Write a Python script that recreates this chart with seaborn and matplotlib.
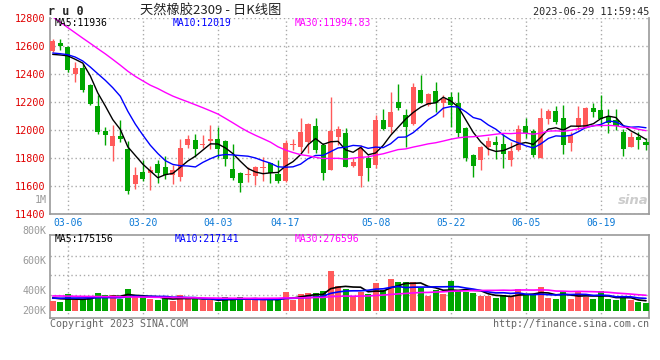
import matplotlib
matplotlib.use("Agg")
import matplotlib.pyplot as plt
import pandas as pd
import seaborn as sns

# trading days shown (03-02 .. 06-29)
dates = ['03-02', '03-03', '03-06', '03-07', '03-08', '03-09', '03-10', '03-13', '03-14', '03-15',
         '03-16', '03-17', '03-20', '03-21', '03-22', '03-23', '03-24', '03-27', '03-28', '03-29',
         '03-30', '03-31', '04-03', '04-04', '04-06', '04-07', '04-10', '04-11', '04-12', '04-13',
         '04-14', '04-17', '04-18', '04-19', '04-20', '04-21', '04-24', '04-25', '04-26', '04-27',
         '04-28', '05-04', '05-05', '05-08', '05-09', '05-10', '05-11', '05-12', '05-15', '05-16',
         '05-17', '05-18', '05-19', '05-22', '05-23', '05-24', '05-25', '05-26', '05-29', '05-30',
         '05-31', '06-01', '06-02', '06-05', '06-06', '06-07', '06-08', '06-09', '06-12', '06-13',
         '06-14', '06-15', '06-16', '06-19', '06-20', '06-21', '06-26', '06-27', '06-28', '06-29']

open_ = [12564, 12620, 12593, 12400, 12445, 12319, 12169, 11990, 11886, 11955,
         11862, 11617, 11700, 11693, 11755, 11736, 11679, 11664, 11890, 11926,
         11893, 11919, 11936, 11921, 11721, 11690, 11676, 11674, 11731, 11762,
         11686, 11638, 11895, 11881, 11917, 12029, 11893, 11714, 11952, 11976,
         11743, 11669, 11798, 11750, 12071, 12019, 12202, 12107, 12040, 12286,
         12179, 12279, 12190, 12238, 12190, 12017, 11821, 11786, 11881, 11917,
         11900, 11786, 11857, 12029, 11995, 11798, 12076, 12136, 12083, 11905,
         12019, 12017, 12160, 12143, 12100, 12071, 11988, 11881, 11952, 11914]
high = [12650, 12650, 12600, 12486, 12474, 12331, 12248, 12021, 12033, 12074,
        11919, 11736, 11783, 11740, 11783, 11812, 11750, 11938, 11967, 11969,
        11967, 12036, 12024, 11929, 11900, 11702, 11738, 11743, 11810, 11767,
        11786, 11929, 11933, 12083, 12048, 12083, 11905, 12238, 12029, 12012,
        11798, 11893, 11821, 12107, 12150, 12274, 12329, 12148, 12338, 12393,
        12262, 12345, 12250, 12269, 12274, 12024, 11829, 11886, 11952, 11957,
        11971, 11917, 12036, 12088, 12005, 12160, 12148, 12171, 12179, 11988,
        12171, 12167, 12195, 12250, 12148, 12148, 12005, 11988, 11988, 11940]
low = [12560, 12570, 12414, 12343, 12271, 12176, 11969, 11890, 11779, 11914,
       11545, 11581, 11636, 11569, 11621, 11652, 11612, 11636, 11874, 11807,
       11874, 11867, 11798, 11745, 11643, 11560, 11631, 11607, 11638, 11619,
       11619, 11631, 11857, 11845, 11838, 11838, 11643, 11714, 11893, 11733,
       11738, 11595, 11638, 11726, 12000, 11981, 12143, 11881, 12033, 12190,
       12171, 12131, 12090, 12024, 11948, 11781, 11667, 11714, 11821, 11790,
       11726, 11743, 11852, 11940, 11805, 11798, 12040, 12043, 11829, 11852,
       12000, 12012, 12090, 12024, 11976, 12000, 11814, 11876, 11862, 11857]
close = [12636, 12600, 12426, 12445, 12283, 12183, 11986, 11964, 11955, 11933,
         11564, 11676, 11650, 11712, 11693, 11676, 11717, 11874, 11933, 11864,
         11898, 11936, 11867, 11795, 11660, 11624, 11681, 11738, 11738, 11690,
         11638, 11905, 11900, 11988, 12043, 11857, 11695, 11995, 12007, 11738,
         11771, 11869, 11731, 12071, 12007, 12131, 12160, 12019, 12310, 12195,
         12255, 12190, 12221, 12179, 11976, 11798, 11743, 11881, 11921, 11893,
         11829, 11852, 12005, 11976, 11821, 12088, 12138, 12055, 11893, 11964,
         12083, 12155, 12131, 12076, 12052, 12029, 11862, 11952, 11929, 11893]

ma5 = [12540, 12536, 12530, 12505, 12478, 12387, 12265, 12172, 12074, 12004,
       11880, 11818, 11756, 11707, 11659, 11681, 11690, 11734, 11779, 11813,
       11857, 11901, 11900, 11872, 11831, 11776, 11725, 11700, 11688, 11694,
       11697, 11742, 11774, 11824, 11895, 11939, 11897, 11916, 11919, 11858,
       11841, 11876, 11823, 11836, 11890, 11962, 12020, 12078, 12125, 12163,
       12188, 12194, 12234, 12208, 12164, 12073, 11983, 11915, 11864, 11847,
       11853, 11875, 11900, 11911, 11897, 11948, 12006, 12016, 11999, 12028,
       12027, 12030, 12045, 12082, 12099, 12089, 12030, 11994, 11965, 11933]
ma10 = [12550, 12545, 12538, 12521, 12493, 12450, 12402, 12355, 12302, 12241,
        12134, 12042, 11964, 11891, 11832, 11781, 11754, 11745, 11743, 11736,
        11769, 11795, 11817, 11825, 11822, 11817, 11813, 11800, 11780, 11763,
        11737, 11734, 11737, 11756, 11795, 11818, 11819, 11845, 11872, 11877,
        11890, 11886, 11869, 11878, 11874, 11902, 11948, 11950, 11981, 12026,
        12075, 12107, 12156, 12167, 12164, 12130, 12089, 12075, 12036, 12006,
        11963, 11929, 11908, 11887, 11872, 11901, 11940, 11958, 11955, 11962,
        11988, 12018, 12030, 12040, 12064, 12058, 12030, 12020, 12023, 12016]
ma30 = [12808, 12770, 12732, 12694, 12656, 12619, 12581, 12544, 12504, 12463,
        12420, 12383, 12351, 12320, 12296, 12268, 12242, 12221, 12201, 12180,
        12159, 12137, 12114, 12083, 12051, 12018, 11988, 11962, 11938, 11913,
        11880, 11857, 11839, 11824, 11816, 11805, 11796, 11797, 11798, 11792,
        11799, 11805, 11808, 11820, 11830, 11845, 11860, 11865, 11878, 11889,
        11901, 11909, 11921, 11934, 11944, 11950, 11952, 11957, 11963, 11970,
        11976, 11974, 11978, 11977, 11970, 11978, 11992, 11994, 11991, 11998,
        12009, 12018, 12031, 12032, 12033, 12030, 12020, 12017, 12005, 11995]

# volume in thousands of lots
vol = [178, 148, 297, 189, 214, 225, 315, 274, 274, 214,
       382, 238, 238, 214, 184, 238, 178, 274, 214, 202,
       189, 189, 153, 250, 225, 238, 189, 189, 189, 214,
       214, 333, 189, 297, 315, 315, 346, 706, 436, 387,
       256, 328, 297, 495, 376, 567, 508, 508, 508, 405,
       256, 376, 297, 526, 369, 328, 315, 256, 256, 225,
       286, 256, 382, 297, 274, 418, 225, 214, 346, 207,
       328, 238, 207, 346, 207, 184, 238, 189, 148, 135]
vol_ma5 = [230, 215, 210, 208, 205, 215, 248, 243, 260, 260,
           292, 276, 269, 257, 251, 222, 210, 218, 218, 221,
           211, 214, 189, 197, 201, 211, 211, 218, 206, 204,
           199, 228, 228, 249, 270, 290, 292, 396, 424, 438,
           426, 423, 341, 353, 350, 413, 449, 491, 493, 499,
           437, 411, 368, 372, 365, 379, 367, 359, 305, 276,
           268, 256, 281, 289, 299, 325, 319, 286, 295, 282,
           264, 267, 265, 265, 265, 236, 236, 233, 193, 179]
vol_ma10 = [225, 225, 228, 228, 230, 232, 235, 236, 236, 233,
            253, 262, 256, 259, 256, 257, 243, 243, 237, 236,
            217, 212, 204, 207, 211, 211, 212, 204, 201, 203,
            205, 219, 223, 228, 237, 244, 260, 312, 337, 354,
            358, 358, 368, 388, 394, 419, 436, 416, 423, 425,
            425, 430, 430, 433, 432, 408, 389, 364, 338, 320,
            323, 311, 320, 297, 288, 297, 288, 283, 292, 291,
            295, 293, 275, 280, 274, 250, 252, 249, 229, 222]
vol_ma30 = [265, 265, 262, 260, 258, 256, 255, 253, 251, 250,
            248, 247, 245, 243, 241, 240, 238, 236, 234, 232,
            230, 228, 226, 225, 224, 224, 223, 223, 223, 224,
            225, 231, 228, 231, 235, 238, 239, 253, 258, 264,
            260, 263, 265, 274, 281, 292, 303, 310, 320, 327,
            329, 336, 340, 350, 354, 357, 362, 364, 366, 366,
            369, 366, 373, 373, 371, 375, 371, 354, 351, 345,
            348, 345, 342, 337, 331, 318, 309, 299, 287, 278]

tick_dates = ['03-06', '03-20', '04-03', '04-17', '05-08', '05-22', '06-05', '06-19']
price_ticks = [11400, 11600, 11800, 12000, 12200, 12400, 12600, 12800]

sns.set_style("white")
plt.rcParams['font.family'] = ['DejaVu Sans Mono', 'Noto Sans CJK SC']

df = pd.DataFrame({'date': dates, 'open': open_, 'high': high, 'low': low, 'close': close,
                   'ma5': ma5, 'ma10': ma10, 'ma30': ma30, 'vol': vol,
                   'vma5': vol_ma5, 'vma10': vol_ma10, 'vma30': vol_ma30})
df['idx'] = range(len(df))
df['up'] = df['close'] >= df['open']

RED = '#ff5a5a'
GREEN = '#00a600'
GRID = '#aaaaaa'
FRAME = '#999999'
cols = [RED if u else GREEN for u in df['up']]

W, H = 660, 360
def rect(x0, y0, x1, y1):
    return [x0 / W, 1 - y1 / H, (x1 - x0) / W, (y1 - y0) / H]

fig = plt.figure(figsize=(6.6, 3.6), dpi=100)
ax = fig.add_axes(rect(50, 18, 649.3, 214))
axv = fig.add_axes(rect(50, 234.7, 649.3, 318.3))

# candles
ax.vlines(df['idx'], df['low'], df['high'], colors=cols, lw=1, zorder=3)
body_lo = df[['open', 'close']].min(axis=1)
body_h = (df['close'] - df['open']).abs().clip(lower=8)
ax.bar(df['idx'], body_h, bottom=body_lo, width=0.68, color=cols, linewidth=0, zorder=4)

sns.lineplot(data=df, x='idx', y='ma5', ax=ax, color='black', lw=1, zorder=5)
sns.lineplot(data=df, x='idx', y='ma10', ax=ax, color='#0000ff', lw=1, zorder=5)
sns.lineplot(data=df, x='idx', y='ma30', ax=ax, color='#ff00ff', lw=1, zorder=5)

tick_pos = [dates.index(d) for d in tick_dates]
ax.set_xlim(-0.36, 79.44)
ax.set_ylim(11400, 12800)
ax.set_xticks(tick_pos)
ax.set_xticklabels(tick_dates)
ax.set_yticks(price_ticks)
ax.set_yticklabels([str(t) for t in price_ticks])
ax.tick_params(axis='x', length=0, pad=3, labelsize=7, labelcolor='#0a78d6')
ax.tick_params(axis='y', length=0, pad=3, labelsize=7.3, labelcolor='#e00000')
ax.grid(True, ls=(0, (1, 2)), color=GRID, lw=1)
ax.set_xlabel('')
ax.set_ylabel('')
ax.spines['top'].set_visible(False)
for s in ['left', 'bottom', 'right']:
    ax.spines[s].set_color(FRAME)
    ax.spines[s].set_linewidth(1.2)

# volume
axv.bar(df['idx'], df['vol'], width=0.8, color=cols, linewidth=0, zorder=3)
sns.lineplot(data=df, x='idx', y='vma5', ax=axv, color='black', lw=1.2, zorder=5)
sns.lineplot(data=df, x='idx', y='vma10', ax=axv, color='#0000ff', lw=1.2, zorder=5)
sns.lineplot(data=df, x='idx', y='vma30', ax=axv, color='#ff00ff', lw=1.2, zorder=5)
axv.set_xlim(-0.36, 79.44)
axv.set_ylim(-137, 1368)
axv.set_xticks(tick_pos)
axv.set_xticklabels([])
axv.set_yticks([277, 637, 990])
axv.set_yticklabels([])
axv.tick_params(length=0)
axv.grid(True, ls=(0, (1, 2)), color=GRID, lw=1)
axv.set_xlabel('')
axv.set_ylabel('')
for s in axv.spines.values():
    s.set_color(FRAME)
    s.set_linewidth(1.2)

def ftext(x, y, s, **kw):
    kw.setdefault('va', 'center')
    kw.setdefault('fontsize', 7)
    fig.text(x / W, 1 - y / H, s, **kw)

# header
ftext(48, 11.5, 'r u 0', weight='bold', fontsize=8.5)
ftext(140, 11.5, '天然橡胶2309 - 日K线图', fontsize=9.5, color='#222222',
      family=['Noto Sans CJK SC', 'DejaVu Sans'])
ftext(649, 12, '2023-06-29 11:59:45', ha='right', fontsize=7.3)

# MA legends
ftext(55, 23.5, 'MA5:11936', color='black')
ftext(173, 23.5, 'MA10:12019', color='#0000ff')
ftext(295, 23.5, 'MA30:11994.83', color='#ff00ff')
ftext(55, 238.5, 'MA5:175156', color='black')
ftext(175, 238.5, 'MA10:217141', color='#0000ff')
ftext(295, 238.5, 'MA30:276596', color='#ff00ff')

# volume axis labels
for lab, yy in [('1M', 200), ('800K', 231), ('600K', 261), ('400K', 291), ('200K', 310.7)]:
    ftext(46.5, yy, lab, ha='right', color='#999999', fontsize=7.2)

# footer
ftext(50, 324, 'Copyright 2023 SINA.COM', color='#666666', fontsize=7.2)
ftext(649, 324, 'http://finance.sina.com.cn', ha='right', color='#666666', fontsize=7.2)
ftext(633, 201, 'sina', ha='center', style='italic', weight='bold', color='#cccccc',
      fontsize=9.5, family='DejaVu Sans')

fig.savefig('out.png', dpi=100, facecolor='white')
